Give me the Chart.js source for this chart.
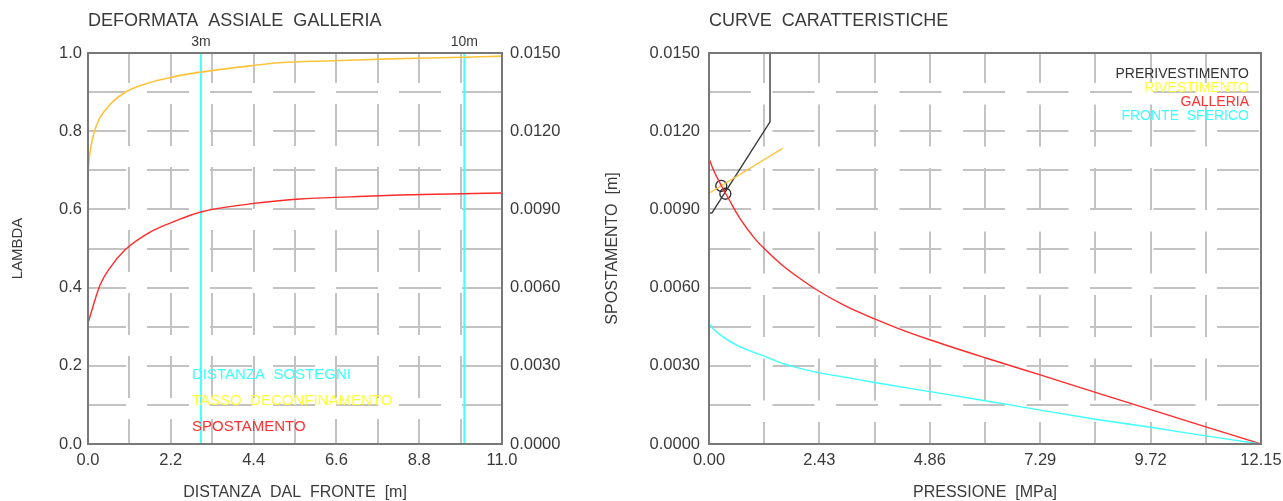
<!DOCTYPE html>
<html>
<head>
<meta charset="utf-8">
<title>Deformata assiale e curve caratteristiche</title>
<script src="https://cdn.jsdelivr.net/npm/chart.js@4.4.1/dist/chart.umd.min.js"></script>
<style>
  html, body { margin: 0; padding: 0; background: #ffffff; overflow: hidden; }
  #wrap { position: relative; width: 1283px; height: 501px; }
  .box { position: absolute; top: 0; height: 501px; }
  #left { left: 0; width: 590px; }
  #right { left: 590px; width: 693px; }
</style>
</head>
<body>
<div id="wrap">
  <div class="box" id="left"><canvas id="cLeft"></canvas></div>
  <div class="box" id="right"><canvas id="cRight"></canvas></div>
</div>
<script>
// ---------- Deformata assiale galleria ----------
// distance from the face [m] and deconfinement ratio lambda
const distLambda   = [0, 0.05, 0.23, 0.5, 0.98, 1.56, 2.27, 2.98, 4.39, 5.10, 6.51, 8.0, 9.97, 11.0];
const lambdaValues = [0.695, 0.744, 0.816, 0.859, 0.899, 0.922, 0.939, 0.951, 0.968, 0.975, 0.980, 0.985, 0.989, 0.992];
// distance from the face [m] and radial displacement [m]
const distDisp   = [0, 0.32, 0.58, 0.98, 1.65, 2.31, 3.0, 4.30, 5.63, 6.96, 8.29, 9.62, 11.0];
const dispValues = [0.00464, 0.00610, 0.00675, 0.00744, 0.00813, 0.00855, 0.00890, 0.00921, 0.00940, 0.00948, 0.00955, 0.00959, 0.00963];
// support positions [m]
const supportDistances = [3, 10];
const supportLabels    = ['3m', '10m'];
// axes
const distGrid       = [0, 1.1, 2.2, 3.3, 4.4, 5.5, 6.6, 7.7, 8.8, 9.9, 11.0];
const distTickLabels = ['0.0', '', '2.2', '', '4.4', '', '6.6', '', '8.8', '', '11.0'];
const lambdaGrid       = [0, 0.1, 0.2, 0.3, 0.4, 0.5, 0.6, 0.7, 0.8, 0.9, 1.0];
const lambdaTickLabels = ['0.0', '', '0.2', '', '0.4', '', '0.6', '', '0.8', '', '1.0'];
const dispGrid       = [0, 0.0015, 0.003, 0.0045, 0.006, 0.0075, 0.009, 0.0105, 0.012, 0.0135, 0.015];
const dispTickLabels = ['0.0000', '', '0.0030', '', '0.0060', '', '0.0090', '', '0.0120', '', '0.0150'];

// ---------- Curve caratteristiche ----------
const pressGalleria = [0, 0.1, 0.2, 0.3, 0.45, 0.68, 1.0, 1.215, 1.6, 2.0, 2.43, 3.0, 3.645, 4.2, 4.86, 6.075, 7.29, 8.505, 9.72, 10.935, 12.15];
const dispGalleria  = [0.01095, 0.01050, 0.01015, 0.00982, 0.00935, 0.00866, 0.00790, 0.00750, 0.00688, 0.00635, 0.00585, 0.00530, 0.00480, 0.00441, 0.00400, 0.00331, 0.00265, 0.00198, 0.00132, 0.00066, 0];
const pressFronte = [0, 0.1, 0.3, 0.6, 0.9, 1.215, 1.6, 2.0, 2.43, 3.0, 3.645, 4.86, 6.075, 7.29, 8.505, 9.72, 10.935, 12.15];
const dispFronte  = [0.00462, 0.00440, 0.00412, 0.00380, 0.00357, 0.00337, 0.00310, 0.00290, 0.00273, 0.00256, 0.00236, 0.00201, 0.00166, 0.00130, 0.00095, 0.00064, 0.00031, 0];
const pressPreriv = [0, 0.066, 1.343, 1.343];
const dispPreriv  = [0.00885, 0.00887, 0.01236, 0.0150];
const pressRiv = [0, 1.622];
const dispRiv  = [0.00962, 0.01134];
const equilibriumPress = [0.27, 0.36];
const equilibriumDisp  = [0.0099, 0.0096];
const pressGrid       = [0, 1.215, 2.43, 3.645, 4.86, 6.075, 7.29, 8.505, 9.72, 10.935, 12.15];
const pressTickLabels = ['0.00', '', '2.43', '', '4.86', '', '7.29', '', '9.72', '', '12.15'];

// ---------- shared styling ----------
const FONT = '"Liberation Sans", Arial, sans-serif';
const TEXT = '#3a3a3a';
const GRID = '#c3c3c3';
const FRAME = '#787878';

const pts = (xs, ys) => xs.map((x, i) => ({ x: x, y: ys[i] }));
const setTicks = vals => s => { s.ticks = vals.map(v => ({ value: v })); };
// fixed box size; edge labels may overhang into the page margins
const fixWidth = w => s => { s.width = w; s.paddingTop = 0; s.paddingBottom = 0; };
const fixHeight = h => s => { s.height = h; s.paddingLeft = 0; s.paddingRight = 0; };

function frameAndText(drawTexts) {
  return {
    id: 'frameAndText',
    afterDatasetsDraw(chart) {
      const { ctx, chartArea: a } = chart;
      ctx.save();
      ctx.strokeStyle = FRAME;
      ctx.lineWidth = 2;
      ctx.strokeRect(Math.round(a.left), Math.round(a.top), Math.round(a.right - a.left), Math.round(a.bottom - a.top));
      ctx.restore();
    },
    afterDraw(chart) {
      const ctx = chart.ctx;
      ctx.save();
      drawTexts(chart, ctx);
      ctx.restore();
    }
  };
}

function gridAxis(extra) {
  return Object.assign({
    type: 'linear',
    grid: { color: GRID, lineWidth: 2, drawTicks: false },
    ticks: { color: TEXT, font: { family: FONT, size: 16.5 }, autoSkip: false, maxRotation: 0 }
  }, extra);
}

// ---------- left chart ----------
new Chart(document.getElementById('cLeft'), {
  type: 'line',
  data: {
    datasets: [
      { label: 'TASSO DECONFINAMENTO', data: pts(distLambda, lambdaValues), yAxisID: 'yL',
        borderColor: '#ffc43c', borderWidth: 1.6, pointRadius: 0, cubicInterpolationMode: 'monotone' },
      { label: 'SPOSTAMENTO', data: pts(distDisp, dispValues), yAxisID: 'yR',
        borderColor: '#ff2a2a', borderWidth: 1.4, pointRadius: 0, cubicInterpolationMode: 'monotone' },
      ...supportDistances.map(d => ({
        label: 'DISTANZA SOSTEGNI', data: [{ x: d, y: 0 }, { x: d, y: 1 }], yAxisID: 'yL',
        borderColor: '#44ffff', borderWidth: 2, pointRadius: 0
      }))
    ]
  },
  options: {
    responsive: true, maintainAspectRatio: false, animation: false,
    layout: { padding: { top: 53, right: 0, bottom: 0, left: 0 } },
    plugins: { legend: { display: false }, tooltip: { enabled: false } },
    scales: {
      x: gridAxis({
        position: 'bottom', min: 0, max: 11,
        afterBuildTicks: setTicks(distGrid),
        afterFit: fixHeight(57),
        border: { display: false, dash: [42, 21], dashOffset: 12 },
        ticks: { color: TEXT, font: { family: FONT, size: 16.5 }, padding: 7, autoSkip: false, maxRotation: 0,
                 callback: (v, i) => distTickLabels[i] },
        title: { display: true, text: 'DISTANZA  DAL  FRONTE  [m]', color: TEXT,
                 font: { family: FONT, size: 16, lineHeight: 1 }, padding: { top: 0, bottom: 0 } }
      }),
      yL: gridAxis({
        position: 'left', min: 0, max: 1,
        afterBuildTicks: setTicks(lambdaGrid),
        afterFit: fixWidth(88),
        border: { display: false, dash: [42, 21], dashOffset: 4 },
        ticks: { color: TEXT, font: { family: FONT, size: 16.5 }, padding: 6, autoSkip: false,
                 callback: (v, i) => lambdaTickLabels[i] },
        title: { display: true, text: 'LAMBDA', color: TEXT,
                 font: { family: FONT, size: 15, lineHeight: 1 }, padding: { top: 10, bottom: 0 } }
      }),
      yR: gridAxis({
        position: 'right', min: 0, max: 0.015,
        afterBuildTicks: setTicks(dispGrid),
        afterFit: fixWidth(88),
        grid: { display: false, drawTicks: false },
        border: { display: false },
        ticks: { color: TEXT, font: { family: FONT, size: 16.5 }, padding: 8, autoSkip: false,
                 callback: (v, i) => dispTickLabels[i] }
      })
    }
  },
  plugins: [frameAndText((chart, ctx) => {
    const a = chart.chartArea;
    const x = chart.scales.x;
    ctx.textBaseline = 'middle';
    ctx.fillStyle = TEXT;
    ctx.textAlign = 'left';
    ctx.font = '18px ' + FONT;
    ctx.fillText('DEFORMATA  ASSIALE  GALLERIA', a.left, 21);
    ctx.textAlign = 'center';
    ctx.font = '14px ' + FONT;
    supportDistances.forEach((d, i) => ctx.fillText(supportLabels[i], x.getPixelForValue(d), 42));
    ctx.textAlign = 'left';
    ctx.font = '15px ' + FONT;
    const lx = a.left + 104;
    ctx.fillStyle = '#3cffff'; ctx.fillText('DISTANZA  SOSTEGNI', lx, a.bottom - 69);
    ctx.fillStyle = '#ffff3c'; ctx.fillText('TASSO  DECONFINAMENTO', lx, a.bottom - 43);
    ctx.fillStyle = '#ff3030'; ctx.fillText('SPOSTAMENTO', lx, a.bottom - 17);
  })]
});

// ---------- right chart ----------
new Chart(document.getElementById('cRight'), {
  type: 'line',
  data: {
    datasets: [
      { label: 'FRONTE SFERICO', data: pts(pressFronte, dispFronte),
        borderColor: '#3cffff', borderWidth: 1.4, pointRadius: 0, cubicInterpolationMode: 'monotone' },
      { label: 'GALLERIA', data: pts(pressGalleria, dispGalleria),
        borderColor: '#ff2a2a', borderWidth: 1.4, pointRadius: 0, cubicInterpolationMode: 'monotone' },
      { label: 'RIVESTIMENTO', data: pts(pressRiv, dispRiv),
        borderColor: '#ffc43c', borderWidth: 1.4, pointRadius: 0 },
      { label: 'PRERIVESTIMENTO', data: pts(pressPreriv, dispPreriv),
        borderColor: '#3a3a3a', borderWidth: 1.4, pointRadius: 0, tension: 0 },
      { type: 'scatter', label: 'EQUILIBRIO', data: pts(equilibriumPress, equilibriumDisp),
        pointRadius: 5.5, pointStyle: 'circle', borderColor: '#2a2a2a', borderWidth: 1.3,
        backgroundColor: 'rgba(0,0,0,0)', showLine: false }
    ]
  },
  options: {
    responsive: true, maintainAspectRatio: false, animation: false,
    layout: { padding: { top: 53, right: 22, bottom: 0, left: 0 } },
    plugins: { legend: { display: false }, tooltip: { enabled: false } },
    scales: {
      x: gridAxis({
        position: 'bottom', min: 0, max: 12.15,
        afterBuildTicks: setTicks(pressGrid),
        afterFit: fixHeight(57),
        border: { display: false, dash: [42, 21.5], dashOffset: 12 },
        ticks: { color: TEXT, font: { family: FONT, size: 16.5 }, padding: 7, autoSkip: false, maxRotation: 0,
                 callback: (v, i) => pressTickLabels[i] },
        title: { display: true, text: 'PRESSIONE  [MPa]', color: TEXT,
                 font: { family: FONT, size: 16, lineHeight: 1 }, padding: { top: 0, bottom: 0 } }
      }),
      y: gridAxis({
        position: 'left', min: 0, max: 0.015,
        afterBuildTicks: setTicks(dispGrid),
        afterFit: fixWidth(119),
        border: { display: false, dash: [42, 21.5], dashOffset: 0 },
        ticks: { color: TEXT, font: { family: FONT, size: 16.5 }, padding: 9, autoSkip: false,
                 callback: (v, i) => dispTickLabels[i] },
        title: { display: true, text: 'SPOSTAMENTO  [m]', color: TEXT,
                 font: { family: FONT, size: 16, lineHeight: 1 }, padding: { top: 15, bottom: 0 } }
      })
    }
  },
  plugins: [frameAndText((chart, ctx) => {
    const a = chart.chartArea;
    ctx.textBaseline = 'middle';
    ctx.fillStyle = TEXT;
    ctx.textAlign = 'left';
    ctx.font = '18px ' + FONT;
    ctx.fillText('CURVE  CARATTERISTICHE', a.left, 21);
    ctx.textAlign = 'right';
    ctx.font = '14px ' + FONT;
    const rx = a.right - 12;
    const entries = [['PRERIVESTIMENTO', '#333333'], ['RIVESTIMENTO', '#ffff3c'],
                     ['GALLERIA', '#ff3030'], ['FRONTE  SFERICO', '#3cffff']];
    entries.forEach((e, i) => { ctx.fillStyle = e[1]; ctx.fillText(e[0], rx, a.top + 21 + i * 14); });
  })]
});
</script>
</body>
</html>
